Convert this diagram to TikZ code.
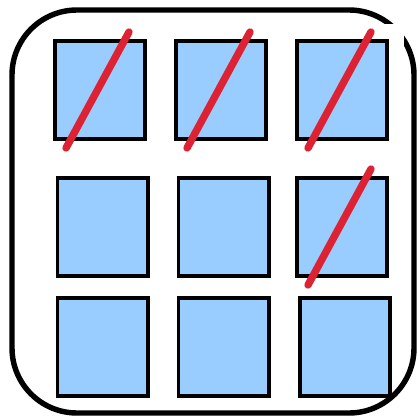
\documentclass[tikz,border=0pt]{standalone}
\usepackage{tikz}
\definecolor{cellblue}{HTML}{99CCFF}
\definecolor{slashred}{HTML}{DD2233}
\begin{document}
\begin{tikzpicture}[
    x=0.02cm, y=-0.02cm,
    cell/.style={rectangle, draw=black, line width=2pt, fill=cellblue, minimum width=1.81cm, minimum height=1.96cm, inner sep=0pt},
    slash/.style={draw=slashred, line width=4.2pt, line cap=round},
    frame/.style={draw=black, line width=3.1pt, rounded corners=1.3cm}
]
\useasboundingbox (0,0) rectangle (416,419);
\draw[frame] (12,10) rectangle (414,413);
\fill[white] (284,24) rectangle (404,153);
% top row
\node[cell] (c11) at (100,90) {};
\node[cell] (c12) at (221,90) {};
\node[cell] (c13) at (342,90) {};
% middle row
\node[cell] (c21) at (102.5,227) {};
\node[cell] (c22) at (223.5,227) {};
\node[cell] (c23) at (342,227) {};
% bottom row
\node[cell] (c31) at (102.5,347) {};
\node[cell] (c32) at (223.5,347) {};
\node[cell] (c33) at (345,347) {};
\foreach \c in {c11,c12,c13,c23}
    \draw[slash] (\c.center) ++(-34,58) -- ++(63,-116);
\end{tikzpicture}
\end{document}
